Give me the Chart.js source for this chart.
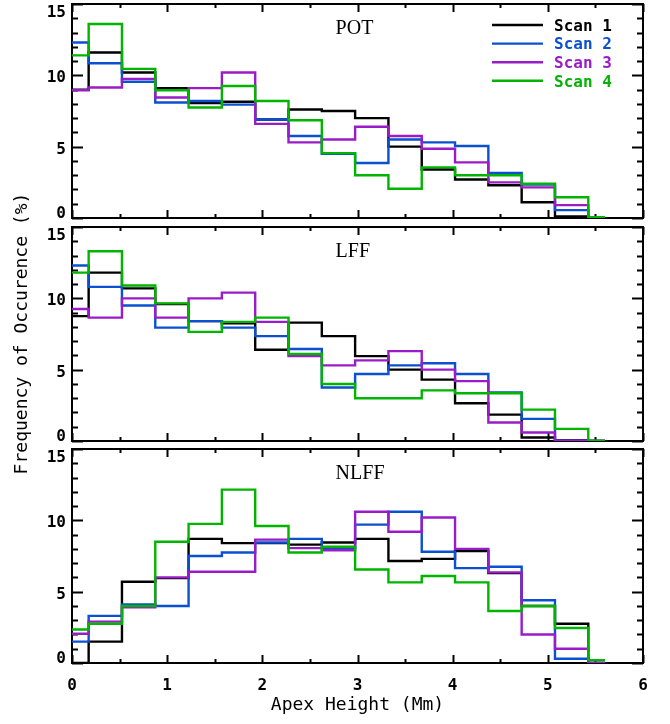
<!DOCTYPE html>
<html>
<head>
<meta charset="utf-8">
<script src="https://cdn.jsdelivr.net/npm/chart.js@4.4.1/dist/chart.umd.min.js"></script>
<style>
  body { margin: 0; background: #fff; }
  #wrap { position: relative; width: 670px; height: 724px; overflow: hidden; }
  #wrap canvas { position: absolute; left: 0; top: 0; }
</style>
</head>
<body>
<div id="wrap">
  <canvas id="pot" width="670" height="724"></canvas>
  <canvas id="lff" width="670" height="724"></canvas>
  <canvas id="nlff" width="670" height="724"></canvas>
</div>
<script>
// bin centres (Mm)
const apexHeight = [0, 0.35, 0.7, 1.05, 1.4, 1.75, 2.1, 2.45, 2.8, 3.15, 3.5, 3.85, 4.2, 4.55, 4.9, 5.25, 5.6];
const scanNames = ["Scan 1", "Scan 2", "Scan 3", "Scan 4"];
const scanColors = ["#000000", "#0a50d0", "#9a1cc8", "#00b400"];
const xTickLabels = [0, 1, 2, 3, 4, 5, 6];
const yTickLabels = [0, 5, 10, 15];

// frequency of occurence (%)
const potScan1 = [9.0, 11.6, 10.2, 9.1, 8.05, 8.15, 6.9, 7.6, 7.5, 7.0, 5.0, 3.4, 2.7, 2.3, 1.1, 0.1, 0];
const potScan2 = [12.3, 10.85, 9.55, 8.1, 8.2, 7.95, 6.9, 5.75, 4.5, 3.85, 5.5, 5.3, 5.05, 3.15, 2.35, 0.55, 0];
const potScan3 = [8.95, 9.15, 9.75, 8.45, 9.1, 10.2, 6.6, 5.3, 5.5, 6.4, 5.75, 4.85, 3.9, 2.5, 2.15, 0.9, 0];
const potScan4 = [11.4, 13.6, 10.45, 8.95, 7.75, 9.25, 8.2, 6.85, 4.55, 3.0, 2.05, 3.55, 3.0, 3.0, 2.4, 1.45, 0.05];

const lffScan1 = [8.75, 11.8, 10.7, 9.6, 8.4, 8.25, 6.4, 8.3, 7.35, 5.95, 5.0, 4.3, 2.65, 1.85, 0.25, 0.05, 0];
const lffScan2 = [12.3, 10.8, 9.5, 7.95, 8.4, 7.95, 7.35, 6.45, 3.75, 4.7, 5.3, 5.45, 4.7, 3.4, 1.55, 0.02, 0];
const lffScan3 = [9.25, 8.65, 10.0, 8.65, 10.0, 10.4, 8.35, 5.95, 5.3, 5.65, 6.3, 5.0, 4.2, 1.3, 0.6, 0.02, 0];
const lffScan4 = [11.8, 13.3, 10.9, 9.65, 7.65, 8.35, 8.65, 6.1, 4.0, 3.0, 3.0, 3.55, 3.35, 3.35, 2.2, 0.85, 0.02];

const nlffScan1 = [0, 1.5, 5.7, 5.95, 8.7, 8.4, 8.4, 8.3, 8.45, 8.7, 7.15, 7.3, 7.85, 6.3, 4.0, 2.75, 0.2];
const nlffScan2 = [1.5, 3.3, 4.1, 4.0, 7.5, 7.75, 8.45, 8.7, 8.05, 9.7, 10.6, 7.8, 6.65, 6.75, 4.4, 0.3, 0];
const nlffScan3 = [2.05, 2.9, 3.9, 6.0, 6.4, 6.4, 8.65, 8.05, 7.9, 10.6, 9.2, 10.2, 8.0, 6.35, 2.0, 1.0, 0];
const nlffScan4 = [2.35, 2.75, 4.0, 8.5, 9.75, 12.15, 9.6, 7.75, 8.15, 6.55, 5.65, 6.1, 5.65, 3.65, 4.0, 2.45, 0.2];

const monoFont = '"DejaVu Sans Mono", monospace';

// IDL-like frame: box, inward ticks on all four sides
const frame = {
  id: "frame",
  beforeDatasetsDraw(chart) {
    const ctx = chart.ctx;
    const a = chart.chartArea;
    const xs = chart.scales.x, ys = chart.scales.y;
    ctx.save();
    ctx.strokeStyle = "#000";
    ctx.lineWidth = 2;
    ctx.strokeRect(a.left, a.top, a.right - a.left, a.bottom - a.top);
    ctx.beginPath();
    for (let v = 0; v <= 15; v++) {
      const py = Math.round(ys.getPixelForValue(v)) + 0.5;
      const len = v % 5 === 0 ? 11 : 6;
      ctx.moveTo(a.left, py); ctx.lineTo(a.left + len, py);
      ctx.moveTo(a.right, py); ctx.lineTo(a.right - len, py);
    }
    for (let v = 0; v <= 6; v += 0.5) {
      const px = Math.round(xs.getPixelForValue(v)) + 0.5;
      const len = v % 1 === 0 ? 8 : 4;
      ctx.moveTo(px, a.bottom); ctx.lineTo(px, a.bottom - len);
      ctx.moveTo(px, a.top); ctx.lineTo(px, a.top + len);
    }
    ctx.stroke();
    ctx.restore();
  },
  afterDraw(chart, args, opts) {
    const ctx = chart.ctx;
    const a = chart.chartArea;
    const xs = chart.scales.x, ys = chart.scales.y;
    ctx.save();
    ctx.fillStyle = "#000";

    // y tick labels
    ctx.font = "bold 16px " + monoFont;
    ctx.textAlign = "right";
    ctx.textBaseline = "alphabetic";
    yTickLabels.forEach(v => {
      const py = ys.getPixelForValue(v);
      let base = py + 7;
      if (v === 15) base = py + 13;
      if (v === 0) base = py;
      ctx.fillText(String(v), a.left - 6, base);
    });

    // panel name
    ctx.font = '20px "Liberation Serif", serif';
    ctx.textAlign = "left";
    ctx.fillText(opts.name, xs.getPixelForValue(2.77), a.top + 30);

    if (opts.xAxis) {
      ctx.font = "bold 16px " + monoFont;
      ctx.textAlign = "center";
      xTickLabels.forEach(v => {
        ctx.fillText(String(v), xs.getPixelForValue(v), 690);
      });
      ctx.font = "18px " + monoFont;
      ctx.fillText("Apex Height (Mm)", (a.left + a.right) / 2, 710);
    }

    if (opts.yTitle) {
      ctx.font = "18px " + monoFont;
      ctx.textAlign = "center";
      ctx.translate(27, 333.5);
      ctx.rotate(-Math.PI / 2);
      ctx.fillText("Frequency of Occurence (%)", 0, 0);
      ctx.setTransform(1, 0, 0, 1, 0, 0);
    }

    if (opts.legend) {
      ctx.font = "bold 16px " + monoFont;
      ctx.textAlign = "left";
      scanNames.forEach((name, i) => {
        const ly = a.top + 21 + 18.6 * i;
        ctx.strokeStyle = scanColors[i];
        ctx.lineWidth = 2.4;
        ctx.beginPath();
        ctx.moveTo(492, ly); ctx.lineTo(543, ly);
        ctx.stroke();
        ctx.fillStyle = scanColors[i];
        ctx.fillText(name, 554, ly + 5.8);
      });
    }
    ctx.restore();
  }
};

function makePanel(id, name, series, top, bottom, extra) {
  return new Chart(document.getElementById(id), {
    type: "line",
    data: {
      datasets: series.map((vals, i) => ({
        label: scanNames[i],
        data: vals.map((v, k) => ({ x: apexHeight[k], y: v })),
        borderColor: scanColors[i],
        borderWidth: 2.4,
        stepped: "middle",
        pointRadius: 0,
        fill: false,
        order: 4 - i
      }))
    },
    options: {
      responsive: false,
      animation: false,
      events: [],
      layout: { padding: { left: 72, right: 27, top: top, bottom: 724 - bottom } },
      scales: {
        x: { type: "linear", min: 0, max: 6, display: false },
        y: { type: "linear", min: 0, max: 15, display: false }
      },
      plugins: {
        legend: { display: false },
        tooltip: { enabled: false },
        frame: Object.assign({ name: name }, extra)
      }
    },
    plugins: [frame]
  });
}

makePanel("pot", "POT", [potScan1, potScan2, potScan3, potScan4], 4, 218, { legend: true });
makePanel("lff", "LFF", [lffScan1, lffScan2, lffScan3, lffScan4], 227, 441, { yTitle: true });
makePanel("nlff", "NLFF", [nlffScan1, nlffScan2, nlffScan3, nlffScan4], 449, 663, { xAxis: true });
</script>
</body>
</html>
